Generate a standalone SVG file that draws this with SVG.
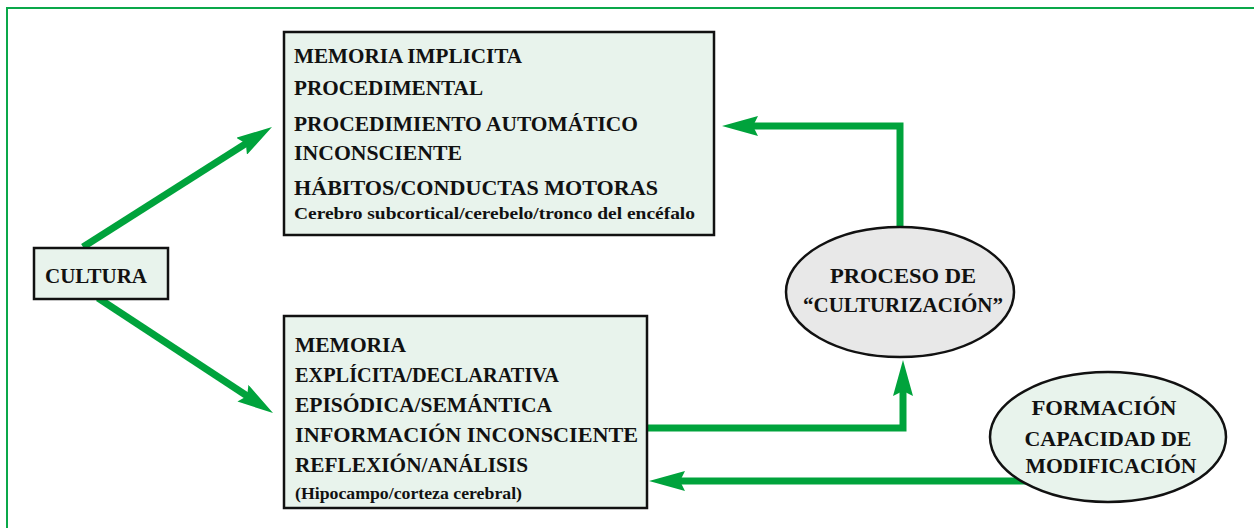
<svg xmlns="http://www.w3.org/2000/svg" width="1254" height="528" viewBox="0 0 1254 528">
<style>
.frame{fill:none;stroke:#0aa84a;stroke-width:2}
.box{fill:#e8f3ec;stroke:#111;stroke-width:2.5}
.ell-gray{fill:#e8e8e8;stroke:#111;stroke-width:2.5}
.ell-green{fill:#e8f3ec;stroke:#111;stroke-width:2.5}
.conn{fill:none;stroke:#00a33c;stroke-width:7;marker-end:url(#ah)}
text{font-family:"Liberation Serif","Times New Roman",serif;font-weight:bold;fill:#111}
.t{font-size:21px}
.s{font-size:17px}
.c{text-anchor:middle}
</style>
<defs>
<marker id="ah" markerUnits="userSpaceOnUse" viewBox="0 0 36 20" markerWidth="36" markerHeight="20" refX="16" refY="10" orient="auto">
<path d="M0,0 L36,10 L0,20 L5,10 Z" fill="#00a33c"/>
</marker>
</defs>
<rect class="frame" x="7" y="8" width="1260" height="530"/>
<g id="connectors">
<path class="conn" d="M83,247 L255.1,137.7"/>
<path class="conn" d="M98,298 L256.3,402"/>
<path class="conn" d="M900,232 V126 H742"/>
<path class="conn" d="M646,428 H903 V380"/>
<path class="conn" d="M1030,481 H669"/>
</g>
<g id="cultura">
<rect class="box" x="34" y="248" width="134" height="51"/>
<text class="t" x="45" y="283" textLength="102" lengthAdjust="spacingAndGlyphs">CULTURA</text>
</g>
<g id="memoria-implicita">
<rect class="box" x="284" y="32" width="430" height="203"/>
<text class="t" x="294" y="63" textLength="228" lengthAdjust="spacingAndGlyphs">MEMORIA IMPLICITA</text>
<text class="t" x="294" y="95" textLength="189" lengthAdjust="spacingAndGlyphs">PROCEDIMENTAL</text>
<text class="t" x="294" y="131" textLength="344" lengthAdjust="spacingAndGlyphs">PROCEDIMIENTO AUTOMÁTICO</text>
<text class="t" x="294" y="160" textLength="168" lengthAdjust="spacingAndGlyphs">INCONSCIENTE</text>
<text class="t" x="294" y="195" textLength="364" lengthAdjust="spacingAndGlyphs">HÁBITOS/CONDUCTAS MOTORAS</text>
<text class="s" x="294" y="219" textLength="401" lengthAdjust="spacingAndGlyphs">Cerebro subcortical/cerebelo/tronco del encéfalo</text>
</g>
<g id="memoria-explicita">
<rect class="box" x="284" y="316" width="363" height="192"/>
<text class="t" x="295" y="352" textLength="111" lengthAdjust="spacingAndGlyphs">MEMORIA</text>
<text class="t" x="295" y="382" textLength="264" lengthAdjust="spacingAndGlyphs">EXPLÍCITA/DECLARATIVA</text>
<text class="t" x="295" y="412" textLength="257" lengthAdjust="spacingAndGlyphs">EPISÓDICA/SEMÁNTICA</text>
<text class="t" x="295" y="442" textLength="343" lengthAdjust="spacingAndGlyphs">INFORMACIÓN INCONSCIENTE</text>
<text class="t" x="295" y="472" textLength="233" lengthAdjust="spacingAndGlyphs">REFLEXIÓN/ANÁLISIS</text>
<text class="s" x="295" y="499" textLength="227" lengthAdjust="spacingAndGlyphs">(Hipocampo/corteza cerebral)</text>
</g>
<g id="proceso">
<ellipse class="ell-gray" cx="900" cy="292" rx="114" ry="65"/>
<text class="t c" x="903" y="283" textLength="146" lengthAdjust="spacingAndGlyphs">PROCESO DE</text>
<text class="t c" x="903" y="312" textLength="200" lengthAdjust="spacingAndGlyphs">“CULTURIZACIÓN”</text>
</g>
<g id="formacion">
<ellipse class="ell-green" cx="1108" cy="437" rx="118" ry="65"/>
<text class="t c" x="1104" y="415" textLength="145" lengthAdjust="spacingAndGlyphs">FORMACIÓN</text>
<text class="t c" x="1108" y="446" textLength="167" lengthAdjust="spacingAndGlyphs">CAPACIDAD DE</text>
<text class="t c" x="1111" y="473" textLength="171" lengthAdjust="spacingAndGlyphs">MODIFICACIÓN</text>
</g>
</svg>
